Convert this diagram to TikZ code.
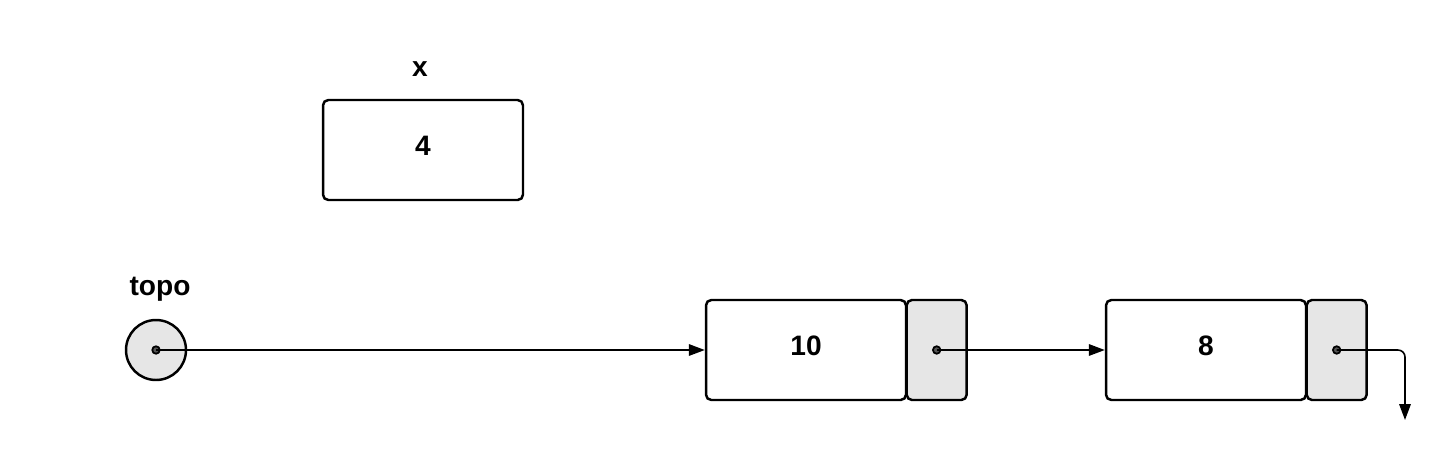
\documentclass[tikz,border=0pt]{standalone}
\usepackage{fontspec}
\setmainfont{Liberation Sans}
\usetikzlibrary{positioning,arrows.meta}
\definecolor{cellgray}{HTML}{E6E6E6}
\definecolor{dotgray}{HTML}{555555}
\begin{document}
\begin{tikzpicture}[x=0.02cm, y=-0.02cm,
  lbl/.style={font=\fontsize{16}{18}\selectfont\bfseries},
  cell/.style={draw, line width=1.4pt, rounded corners=3pt, minimum width=4cm, minimum height=2cm, inner sep=0pt, text depth=5pt, font=\fontsize{16}{18}\selectfont\bfseries},
  nextcell/.style={draw, line width=1.4pt, rounded corners=3pt, fill=cellgray, minimum width=1.2cm, minimum height=2cm, inner sep=0pt},
  head/.style={draw, circle, line width=1.4pt, fill=cellgray, minimum size=1.2cm, inner sep=0pt},
  dot/.style={draw, circle, line width=1pt, fill=dotgray, minimum size=0.15cm, inner sep=0pt},
  ptr/.style={line width=0.9pt, -{Triangle[length=9pt,width=6.5pt]}}]
\useasboundingbox (0,0) rectangle (1451,457);
\node[lbl] (x) at (420,69) {x};
\node[cell] (4) at (423,150) {4};
\node[lbl] (topo) at (160,289) {topo};
\node[head] (h) at (156,350) {};
\node[dot] (d0) at (h.center) {};
\node[cell] (10) at (806,350) {10};
\node[nextcell, right=-1pt of 10] (p10) {};
\node[dot] (d1) at (p10.center) {};
\node[cell] (8) at (1206,350) {8};
\node[nextcell, right=-1pt of 8] (p8) {};
\node[dot] (d2) at (p8.center) {};
\coordinate (nil) at (1405,420);
\draw[ptr] (d0.center) -- (10.west);
\draw[ptr] (d1.center) -- (8.west);
\draw[ptr, rounded corners=4pt] (d2.center) -| (nil);
\end{tikzpicture}
\end{document}
